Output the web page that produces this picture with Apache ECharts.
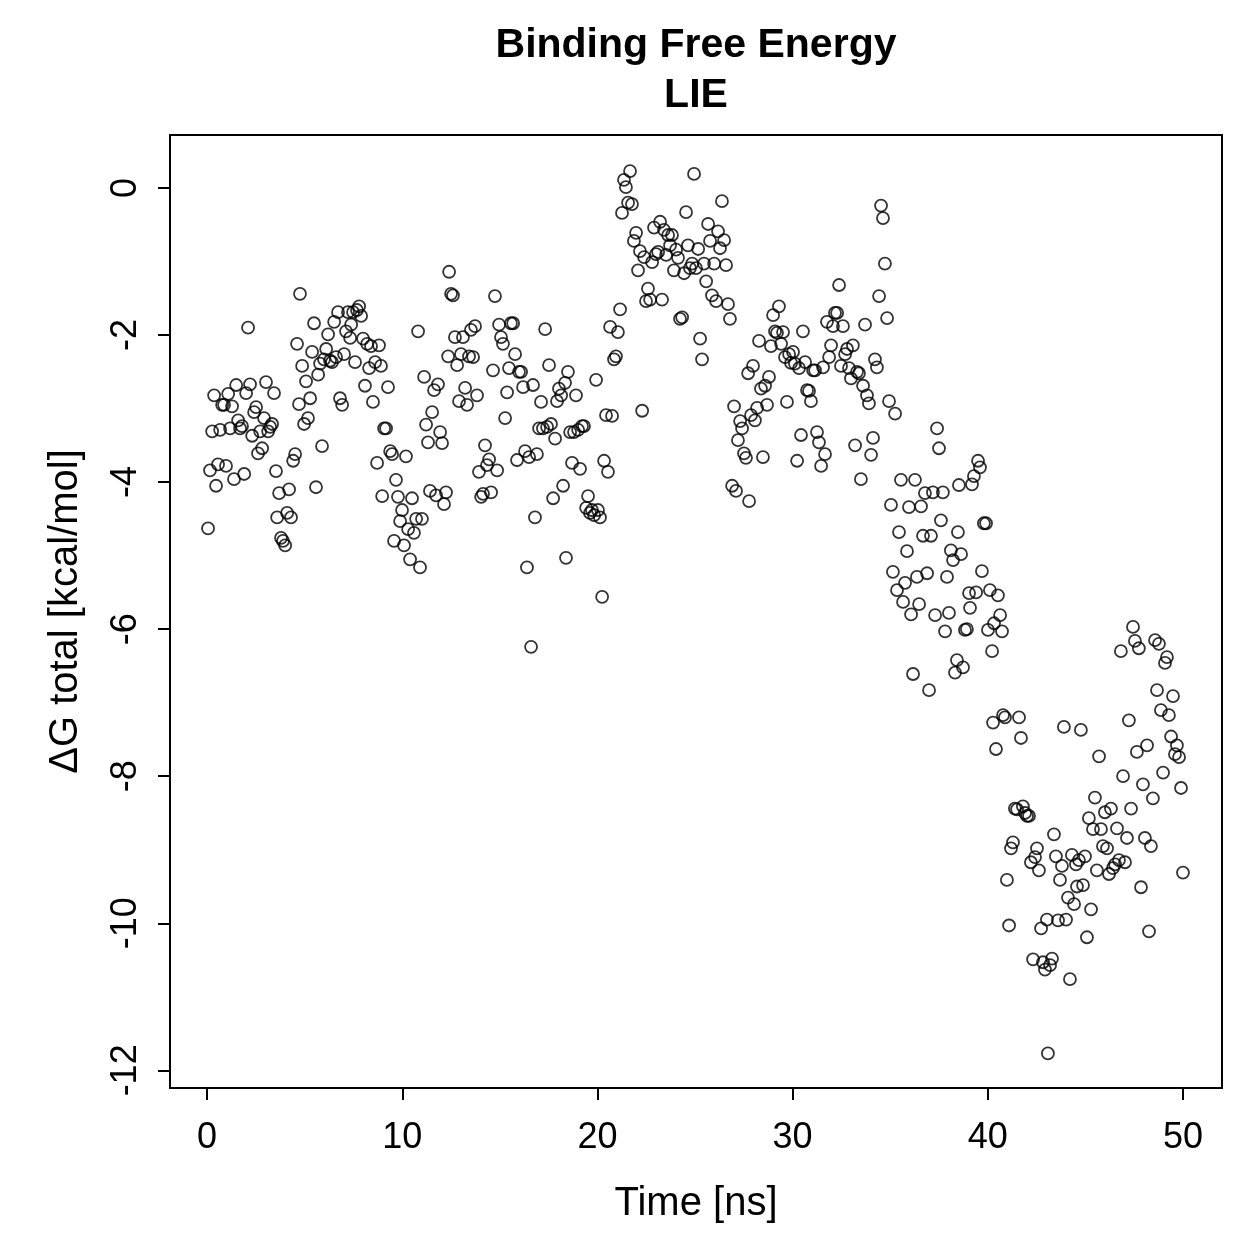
<!DOCTYPE html>
<html>
<head>
<meta charset="utf-8">
<script src="https://cdn.jsdelivr.net/npm/echarts@6/dist/echarts.min.js"></script>
<style>
  html, body { margin: 0; padding: 0; background: #fff; }
  #main { width: 1259px; height: 1259px; }
</style>
</head>
<body>
<div id="main"></div>
<script>
// time [ns], dG total [kcal/mol]
var points = [
  [0.05,-4.63],[0.15,-3.84],[0.26,-3.31],[0.36,-2.82],[0.46,-4.05],[0.56,-3.76],[0.67,-3.29],[0.77,-2.95],[0.87,-2.95],[0.97,-3.78],
  [1.08,-2.80],[1.18,-3.27],[1.28,-2.97],[1.38,-3.96],[1.49,-2.68],[1.59,-3.16],[1.69,-3.27],[1.79,-3.24],[1.90,-3.89],[2.00,-2.79],
  [2.10,-1.90],[2.20,-2.67],[2.31,-3.37],[2.41,-3.05],[2.51,-2.98],[2.61,-3.61],[2.72,-3.31],[2.82,-3.54],[2.92,-3.13],[3.02,-2.64],
  [3.13,-3.31],[3.23,-3.25],[3.33,-3.21],[3.43,-2.79],[3.53,-3.85],[3.59,-4.48],[3.69,-4.15],[3.79,-4.76],[3.89,-4.80],[4.00,-4.86],
  [4.10,-4.42],[4.20,-4.10],[4.30,-4.48],[4.41,-3.71],[4.51,-3.62],[4.61,-2.12],[4.71,-2.94],[4.76,-1.44],[4.87,-2.42],[4.97,-3.21],
  [5.07,-2.63],[5.17,-3.13],[5.28,-2.86],[5.38,-2.23],[5.48,-1.84],[5.58,-4.07],[5.69,-2.54],[5.79,-2.39],[5.89,-3.51],[5.99,-2.33],
  [6.10,-2.19],[6.20,-1.99],[6.30,-2.35],[6.40,-2.37],[6.51,-1.82],[6.61,-2.30],[6.71,-1.69],[6.81,-2.86],[6.92,-2.95],[7.02,-2.26],
  [7.12,-1.95],[7.22,-1.69],[7.33,-2.04],[7.38,-1.86],[7.48,-1.69],[7.58,-2.37],[7.68,-1.66],[7.79,-1.61],[7.89,-1.74],[7.99,-2.05],
  [8.09,-2.69],[8.20,-2.12],[8.30,-2.45],[8.40,-2.15],[8.50,-2.91],[8.61,-2.37],[8.71,-3.74],[8.81,-2.14],[8.91,-2.42],[8.97,-4.19],
  [9.07,-3.27],[9.17,-3.27],[9.27,-2.71],[9.38,-3.58],[9.48,-3.62],[9.58,-4.80],[9.68,-3.97],[9.78,-4.20],[9.89,-4.53],[9.99,-4.38],
  [10.09,-4.86],[10.19,-3.65],[10.30,-4.64],[10.40,-5.05],[10.50,-4.22],[10.60,-4.69],[10.71,-4.50],[10.81,-1.95],[10.91,-5.16],[11.01,-4.50],
  [11.12,-2.57],[11.22,-3.22],[11.32,-3.46],[11.42,-4.12],[11.53,-3.05],[11.63,-2.75],[11.73,-4.18],[11.83,-2.67],[11.94,-3.32],[12.04,-3.47],
  [12.14,-4.30],[12.24,-4.14],[12.35,-2.29],[12.40,-1.14],[12.50,-1.44],[12.60,-1.46],[12.70,-2.03],[12.81,-2.41],[12.91,-2.90],[13.01,-2.26],
  [13.11,-2.03],[13.22,-2.72],[13.32,-2.95],[13.42,-2.29],[13.52,-1.93],[13.63,-2.30],[13.73,-1.88],[13.83,-2.82],[13.93,-3.86],[14.04,-4.20],
  [14.14,-4.16],[14.24,-3.50],[14.34,-3.77],[14.45,-3.69],[14.55,-4.14],[14.65,-2.48],[14.75,-1.47],[14.86,-3.84],[14.96,-1.86],[15.06,-2.03],
  [15.16,-2.12],[15.27,-3.13],[15.37,-2.78],[15.47,-2.45],[15.57,-1.84],[15.68,-1.84],[15.78,-2.26],[15.88,-3.70],[15.98,-2.50],[16.09,-2.50],
  [16.19,-2.71],[16.29,-3.58],[16.39,-5.16],[16.50,-3.66],[16.60,-6.24],[16.70,-2.68],[16.80,-4.48],[16.90,-3.62],[17.01,-3.27],[17.11,-2.91],
  [17.21,-3.27],[17.32,-1.92],[17.42,-3.25],[17.52,-2.41],[17.62,-3.21],[17.73,-4.22],[17.83,-3.41],[17.93,-2.90],[18.03,-2.73],[18.14,-2.82],
  [18.24,-4.05],[18.34,-2.65],[18.39,-5.03],[18.49,-2.50],[18.60,-3.32],[18.70,-3.74],[18.80,-3.32],[18.90,-2.82],[19.01,-3.29],[19.11,-3.82],
  [19.21,-3.24],[19.31,-3.24],[19.42,-4.35],[19.52,-4.19],[19.62,-4.42],[19.72,-4.38],[19.83,-4.45],[19.93,-2.61],[20.03,-4.38],[20.13,-4.48],
  [20.24,-5.56],[20.34,-3.71],[20.44,-3.09],[20.54,-3.86],[20.65,-1.89],[20.75,-3.10],[20.85,-2.33],[20.95,-2.29],[21.05,-1.96],[21.16,-1.65],
  [21.26,-0.34],[21.36,0.11],[21.46,0.01],[21.57,-0.20],[21.67,0.23],[21.77,-0.22],[21.87,-0.72],[21.98,-0.61],[22.08,-1.12],[22.18,-0.86],
  [22.29,-3.03],[22.39,-0.94],[22.49,-1.54],[22.59,-1.37],[22.70,-1.52],[22.80,-1.01],[22.90,-0.54],[23.00,-0.90],[23.11,-0.87],[23.21,-0.46],
  [23.31,-1.52],[23.41,-0.57],[23.52,-0.91],[23.62,-0.64],[23.72,-0.78],[23.82,-0.64],[23.92,-1.12],[24.03,-0.84],[24.13,-0.95],[24.23,-1.78],
  [24.34,-1.76],[24.44,-1.16],[24.54,-0.33],[24.64,-0.78],[24.74,-1.09],[24.85,-1.03],[24.95,0.19],[25.05,-1.09],[25.16,-0.83],[25.26,-2.05],
  [25.36,-2.33],[25.46,-1.03],[25.57,-1.27],[25.67,-0.49],[25.77,-0.72],[25.87,-1.46],[25.98,-1.03],[26.08,-1.54],[26.18,-0.59],[26.28,-0.82],
  [26.38,-0.18],[26.49,-0.71],[26.59,-1.05],[26.69,-1.58],[26.79,-1.78],[26.90,-4.05],[27.00,-2.97],[27.10,-4.12],[27.20,-3.43],[27.31,-3.17],
  [27.41,-3.27],[27.51,-3.61],[27.61,-3.67],[27.72,-2.52],[27.77,-4.26],[27.87,-3.09],[27.97,-2.42],[28.07,-3.16],[28.18,-2.99],[28.28,-2.08],
  [28.38,-2.73],[28.48,-3.66],[28.59,-2.69],[28.69,-2.95],[28.79,-2.57],[28.89,-2.15],[29.00,-1.73],[29.10,-1.95],[29.20,-1.97],[29.30,-1.61],
  [29.41,-2.12],[29.51,-1.96],[29.61,-2.30],[29.71,-2.91],[29.82,-2.26],[29.92,-2.38],[30.02,-2.23],[30.12,-2.39],[30.23,-3.71],[30.33,-2.45],
  [30.43,-3.36],[30.53,-1.95],[30.64,-2.37],[30.74,-2.75],[30.84,-2.76],[30.94,-2.90],[31.05,-2.48],[31.15,-2.48],[31.25,-3.32],[31.35,-3.46],
  [31.46,-3.78],[31.56,-2.44],[31.66,-3.62],[31.76,-1.82],[31.87,-2.30],[31.97,-2.14],[32.07,-1.88],[32.17,-1.70],[32.28,-1.70],[32.38,-1.32],
  [32.48,-2.42],[32.58,-1.88],[32.69,-2.26],[32.79,-2.19],[32.89,-2.45],[32.99,-2.59],[33.09,-2.14],[33.20,-3.50],[33.30,-2.50],[33.40,-2.52],
  [33.50,-3.96],[33.61,-2.69],[33.71,-1.86],[33.81,-2.82],[33.91,-2.93],[34.02,-3.63],[34.12,-3.40],[34.22,-2.33],[34.32,-2.44],[34.43,-1.47],
  [34.53,-0.24],[34.63,-0.41],[34.73,-1.03],[34.84,-1.77],[34.94,-2.90],[35.04,-4.31],[35.14,-5.22],[35.25,-3.07],[35.35,-5.47],[35.45,-4.68],
  [35.55,-3.97],[35.66,-5.63],[35.76,-5.37],[35.86,-4.94],[35.96,-4.34],[36.07,-5.80],[36.17,-6.61],[36.27,-3.97],[36.37,-5.29],[36.48,-5.66],
  [36.58,-4.33],[36.68,-4.73],[36.78,-4.15],[36.89,-5.24],[36.99,-6.83],[37.09,-4.73],[37.19,-4.14],[37.30,-5.81],[37.40,-3.27],[37.50,-3.54],
  [37.60,-4.52],[37.70,-4.14],[37.81,-6.03],[37.91,-5.29],[38.01,-5.78],[38.11,-4.93],[38.22,-5.06],[38.32,-6.59],[38.42,-6.42],[38.47,-4.68],
  [38.52,-4.04],[38.63,-4.98],[38.73,-6.52],[38.83,-6.01],[38.93,-6.00],[39.04,-5.51],[39.09,-5.71],[39.19,-4.03],[39.29,-3.92],[39.40,-5.50],
  [39.50,-3.71],[39.60,-3.80],[39.70,-5.21],[39.80,-4.56],[39.91,-4.56],[40.01,-6.01],[40.11,-5.47],[40.22,-6.30],[40.27,-7.27],[40.32,-5.92],
  [40.42,-7.63],[40.52,-5.54],[40.63,-5.81],[40.73,-6.03],[40.78,-7.17],[40.88,-7.20],[40.98,-9.41],[41.09,-10.03],[41.19,-8.98],[41.29,-8.90],
  [41.39,-8.44],[41.50,-8.45],[41.60,-7.20],[41.70,-7.48],[41.80,-8.41],[41.91,-8.50],[42.01,-8.54],[42.11,-8.54],[42.21,-9.17],[42.32,-10.49],
  [42.42,-9.10],[42.52,-8.98],[42.62,-9.28],[42.73,-10.07],[42.83,-10.53],[42.93,-10.63],[43.03,-9.95],[43.08,-11.77],[43.19,-10.57],[43.29,-10.48],
  [43.39,-8.79],[43.49,-9.09],[43.60,-9.96],[43.70,-9.41],[43.80,-9.22],[43.90,-7.33],[44.01,-9.95],[44.11,-9.65],[44.21,-10.76],[44.31,-9.07],
  [44.42,-9.74],[44.52,-9.20],[44.57,-9.50],[44.67,-9.14],[44.77,-7.37],[44.88,-9.48],[44.98,-9.09],[45.08,-10.19],[45.18,-8.57],[45.29,-9.81],
  [45.39,-8.72],[45.49,-8.29],[45.59,-9.28],[45.70,-7.73],[45.80,-8.72],[45.90,-8.95],[46.00,-8.49],[46.11,-8.98],[46.21,-9.33],[46.31,-8.44],
  [46.41,-9.25],[46.52,-9.20],[46.62,-8.71],[46.72,-9.14],[46.82,-6.30],[46.93,-8.00],[47.03,-9.17],[47.13,-8.84],[47.23,-7.24],[47.34,-8.44],
  [47.44,-5.97],[47.54,-6.16],[47.64,-7.67],[47.74,-6.26],[47.85,-9.51],[47.95,-8.11],[48.05,-8.84],[48.16,-7.58],[48.26,-10.11],[48.36,-8.95],
  [48.46,-8.30],[48.57,-6.15],[48.67,-6.83],[48.77,-6.20],[48.87,-7.10],[48.98,-7.95],[49.08,-6.46],[49.18,-6.38],[49.28,-7.17],[49.39,-7.46],
  [49.49,-6.91],[49.59,-7.70],[49.69,-7.58],[49.80,-7.74],[49.90,-8.16],[50.00,-9.31]
];

var xTicks = [0, 10, 20, 30, 40, 50];
var yTicks = [0, -2, -4, -6, -8, -10, -12];

var titleLines = ['Binding Free Energy', 'LIE'];
var xName = 'Time [ns]';
var yName = '\u0394G total [kcal/mol]';

var font = '"Liberation Sans", Arial, Helvetica, sans-serif';

var chart = echarts.init(document.getElementById('main'), null, { renderer: 'canvas' });

var option = {
  animation: false,
  backgroundColor: '#fff',
  graphic: [
    {
      type: 'text', x: 696, y: 46,
      style: { text: titleLines[0], font: 'bold 41px ' + font, fill: '#000', textAlign: 'center', textVerticalAlign: 'middle' }
    },
    {
      type: 'text', x: 696, y: 96,
      style: { text: titleLines[1], font: 'bold 41px ' + font, fill: '#000', textAlign: 'center', textVerticalAlign: 'middle' }
    }
  ],
  grid: {
    left: 170, right: 37, top: 135, bottom: 171,
    show: true, borderColor: '#000', borderWidth: 2, backgroundColor: 'transparent'
  },
  xAxis: {
    type: 'value',
    min: -1.9, max: 52.0,
    name: xName,
    nameLocation: 'middle',
    nameGap: 96,
    nameTextStyle: { fontFamily: font, fontSize: 40, color: '#000' },
    splitLine: { show: false },
    axisLine: { show: true, onZero: false, lineStyle: { color: '#000', width: 2 } },
    axisTick: { show: true, length: 12, lineStyle: { color: '#000', width: 2 }, customValues: xTicks },
    axisLabel: { fontFamily: font, fontSize: 36, color: '#000', margin: 32, customValues: xTicks }
  },
  yAxis: {
    type: 'value',
    min: -12.24, max: 0.72,
    name: yName,
    nameLocation: 'middle',
    nameGap: 84,
    nameRotate: 90,
    nameTextStyle: { fontFamily: font, fontSize: 40, color: '#000' },
    splitLine: { show: false },
    axisLine: { show: true, onZero: false, lineStyle: { color: '#000', width: 2 } },
    axisTick: { show: true, length: 12, lineStyle: { color: '#000', width: 2 }, customValues: yTicks },
    axisLabel: {
      fontFamily: font, fontSize: 36, color: '#000', margin: 26, rotate: 90,
      customValues: yTicks,
      formatter: function (v) { return String(v); }
    }
  },
  series: [
    {
      type: 'scatter',
      data: points,
      symbol: 'circle',
      symbolSize: 12,
      itemStyle: { color: 'rgba(0,0,0,0)', borderColor: '#000', borderWidth: 1.8 },
      emphasis: { disabled: true }
    }
  ]
};

chart.setOption(option);
</script>
</body>
</html>
